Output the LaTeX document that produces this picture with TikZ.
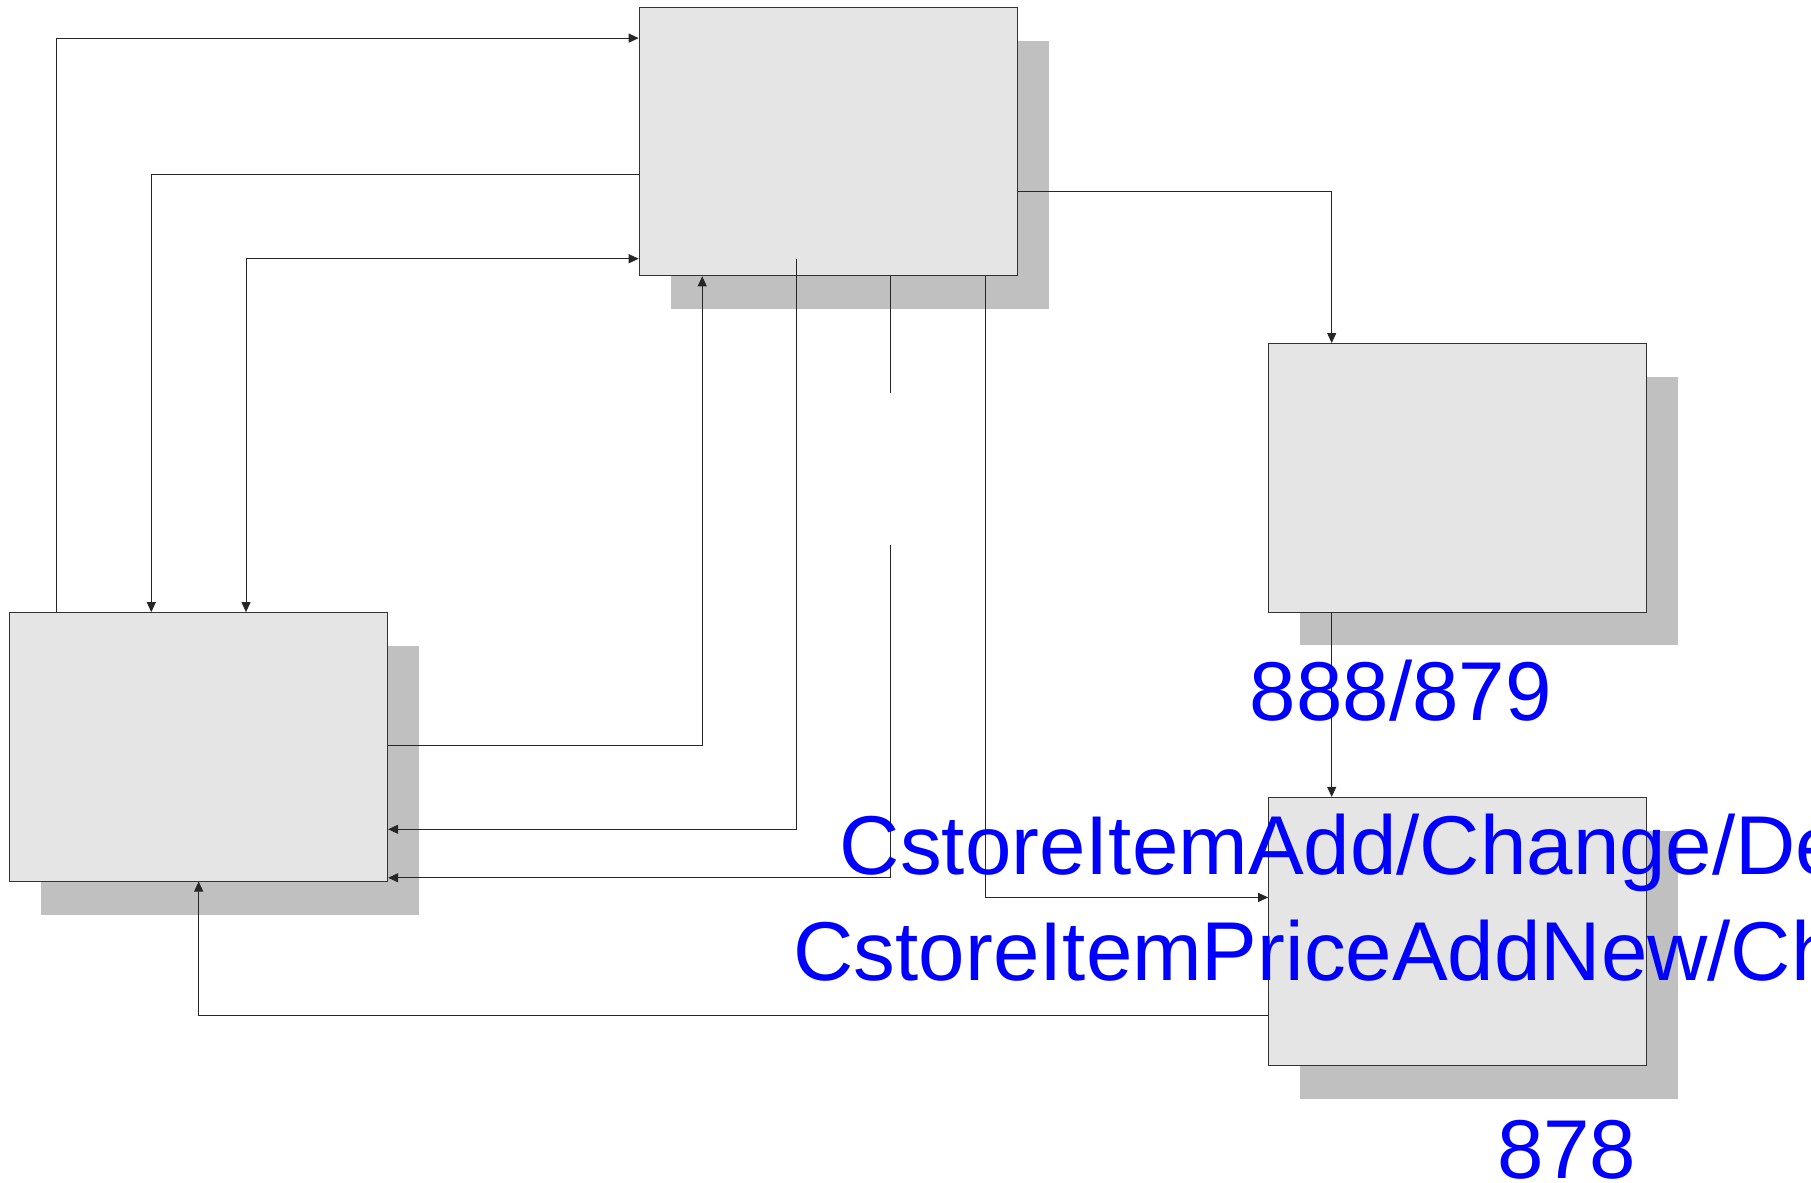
\documentclass[tikz,border=0pt]{standalone}
\usepackage{fontspec}
\setmainfont{Liberation Sans}
\usetikzlibrary{arrows.meta,shadows}
\definecolor{boxfill}{RGB}{229,229,229}
\definecolor{shadowfill}{RGB}{192,192,192}
\definecolor{labelblue}{RGB}{0,0,255}
\tikzset{
  procbox/.style={draw=black!80, line width=0.9pt, fill=boxfill,
    minimum width=378pt, minimum height=268.5pt, anchor=north west, inner sep=0pt,
    drop shadow={shadow xshift=31.5pt, shadow yshift=-33.5pt, fill=shadowfill, opacity=1}},
  flow/.style={draw=black!85, line width=0.9pt},
  tip/.style={-{Triangle[length=10pt,width=9pt]}},
  bothtips/.style={{Triangle[length=10pt,width=9pt]}-{Triangle[length=10pt,width=9pt]}},
  lbl/.style={text=labelblue, font=\fontsize{83.5}{100}\selectfont, anchor=base west, inner sep=0pt},
}
\begin{document}
\begin{tikzpicture}[x=1.155pt,y=-1.155pt]
\useasboundingbox (0,0) rectangle (1568,1024);
\clip (0,0) rectangle (1568,1024);
% boxes
\node[procbox] (A) at (553,6) {};
\node[procbox] (B) at (1098,297) {};
\node[procbox] (C) at (8,530) {};
\node[procbox] (D) at (1098,690) {};
% connectors
\draw[flow,tip] (C.north -| 49,0) |- (A.west |- 0,33);
\draw[flow,tip] (A.west |- 0,151) -| (C.north -| 131,0);
\draw[flow,bothtips] (C.north -| 213,0) |- (A.west |- 0,224);
\draw[flow,tip] (C.east |- 0,645.5) -| (A.south -| 608,0);
\coordinate (a5) at (690,224);
\draw[flow,tip] (a5) |- (C.east |- 0,718);
\coordinate (g1) at (771,340);
\coordinate (g2) at (771,472);
\draw[flow] (A.south -| 771,0) -- (g1);
\draw[flow,tip] (g2) |- (C.east |- 0,760);
\draw[flow,tip] (A.south -| 853,0) |- (D.west |- 0,777);
\draw[flow,tip] (A.east |- 0,166) -| (B.north -| 1153,0);
\draw[flow,tip] (B.south -| 1153,0) -- (D.north -| 1153,0);
\draw[flow,tip] (D.west |- 0,879) -| (C.south -| 172,0);
% labels
\node[lbl] (l1) at (1082,624) {888/879};
\node[lbl] (l2) at (727,757) {CstoreItemAdd/Change/Delete};
\node[lbl] (l3) at (687,849) {CstoreItemPriceAddNew/Change};
\node[lbl] (l4) at (1296,1020) {878};
\end{tikzpicture}
\end{document}
